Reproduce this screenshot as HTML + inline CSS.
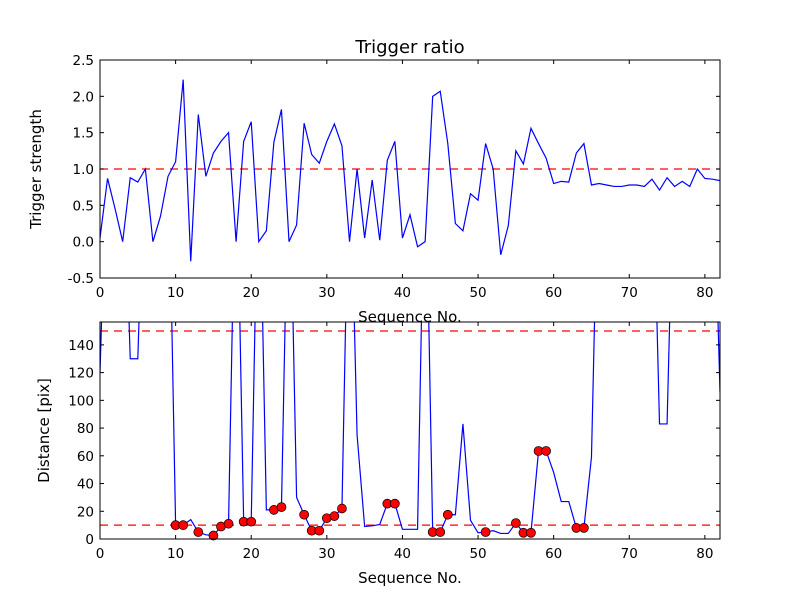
<!DOCTYPE html>
<html><head><meta charset="utf-8"><style>
html,body{margin:0;padding:0;background:#fff}
svg{display:block;font-family:"DejaVu Sans","Liberation Sans",sans-serif}
</style></head><body>
<svg id="fig" width="800" height="600">
<rect width="800" height="600" fill="#fff"/>
<defs>
<clipPath id="c1"><rect x="100" y="60" width="620" height="218"/></clipPath>
<clipPath id="c2"><rect x="100" y="322" width="620" height="217"/></clipPath>
</defs>
<text x="410" y="53" text-anchor="middle" font-size="18">Trigger ratio</text>
<g id="topplot"></g>
<g id="botplot"></g>
</svg>
<script>
const seqNo = Array.from({length:83},(_, i)=>i);
const triggerStrength = [0.05,0.87,0.45,0.0,0.88,0.82,1.0,0.0,0.35,0.9,1.1,2.23,-0.27,1.75,0.9,1.22,1.38,1.5,0.0,1.38,1.65,0.0,0.15,1.37,1.82,0.0,0.23,1.63,1.2,1.08,1.38,1.62,1.32,0.0,1.0,0.05,0.85,0.02,1.12,1.38,0.05,0.37,-0.07,0.0,2.0,2.07,1.35,0.25,0.15,0.66,0.57,1.35,1.0,-0.18,0.22,1.25,1.07,1.56,1.35,1.15,0.8,0.83,0.82,1.22,1.35,0.78,0.8,0.78,0.76,0.76,0.78,0.78,0.76,0.86,0.71,0.88,0.76,0.83,0.76,1.0,0.87,0.86,0.84];
const distance = [120,300,300,300,130,130,300,300,300,300,10,10,14,5,3,2.5,9,11,300,12.5,12.5,300,21,21,23,300,30,17.5,6,6,15,16.5,22,300,75,9,9.5,10.5,25.5,25.5,7,7,7,300,5,5,17.5,17.5,83,13.5,4.5,5,6,4,4,11.5,4.5,4.5,63.5,63.5,48,27,27,8,8,59,300,300,300,300,300,300,300,300,83,83,300,300,300,300,300,300,106];
const markerIdx = [10,11,13,15,16,17,19,20,23,24,27,28,29,30,31,32,38,39,44,45,46,51,55,56,57,58,59,63,64];
const xTicks = [0,10,20,30,40,50,60,70,80];
const yTicksTop = [-0.5,0.0,0.5,1.0,1.5,2.0,2.5];
const yTicksBot = [0,20,40,60,80,100,120,140];
const thresholdTop = [1.0];
const thresholdBot = [10,150];

const NS="http://www.w3.org/2000/svg";
function mk(tag,attrs,parent){const e=document.createElementNS(NS,tag);for(const k in attrs)e.setAttribute(k,attrs[k]);parent.appendChild(e);return e;}
const X0=100,X1=720,XMAX=82;
const xs=v=>X0+(X1-X0)*v/XMAX;
const ysTop=v=>278-(v+0.5)/3*218;
const ysBot=v=>539-v/156.5*217;

function axes(g,yT,y0,y1,ys,fmt,ylabel,ylx){
  mk('rect',{x:X0,y:y0,width:X1-X0,height:y1-y0,fill:'none',stroke:'#000','stroke-width':1},g);
  xTicks.forEach(t=>{const x=xs(t);
    mk('line',{x1:x,x2:x,y1:y1,y2:y1-4,stroke:'#000'},g);
    mk('line',{x1:x,x2:x,y1:y0,y2:y0+4,stroke:'#000'},g);
    const tx=mk('text',{x:x,y:y1+19,'text-anchor':'middle','font-size':'13.5'},g);tx.textContent=t;
    
    
  });
  yT.forEach(t=>{const y=ys(t);
    mk('line',{x1:X0,x2:X0+4,y1:y,y2:y,stroke:'#000'},g);
    mk('line',{x1:X1,x2:X1-4,y1:y,y2:y,stroke:'#000'},g);
    const tx=mk('text',{x:X0-6,y:y+5,'text-anchor':'end','font-size':'13.5'},g);tx.textContent=fmt(t);
    
    
  });
  const xl=mk('text',{x:410,y:y1+44,'text-anchor':'middle','font-size':'15'},g);xl.textContent='Sequence No.';
  
  
  const yc=(y0+y1)/2;
  const yl=mk('text',{x:ylx,y:yc,'text-anchor':'middle','font-size':'15',transform:`rotate(-90 ${ylx} ${yc})`},g);yl.textContent=ylabel;
  
  
}

const topG=document.getElementById('topplot');
const cTop=mk('g',{'clip-path':'url(#c1)'},topG);
thresholdTop.forEach(v=>{const l=mk('line',{x1:X0,x2:X1,y1:ysTop(v),y2:ysTop(v),stroke:'#f00','stroke-dasharray':'8,6','stroke-width':1.2},cTop);
  
  });
const p1=mk('polyline',{points:triggerStrength.map((v,i)=>xs(seqNo[i])+','+ysTop(v)).join(' '),fill:'none',stroke:'#00f','stroke-width':1.2},cTop);


axes(topG,yTicksTop,60,278,ysTop,t=>t.toFixed(1),'Trigger strength',41);

const botG=document.getElementById('botplot');
const cBot=mk('g',{'clip-path':'url(#c2)'},botG);
thresholdBot.forEach(v=>{const l=mk('line',{x1:X0,x2:X1,y1:ysBot(v),y2:ysBot(v),stroke:'#f00','stroke-dasharray':'8,6','stroke-width':1.2},cBot);
  
  });
const p2=mk('polyline',{points:distance.map((v,i)=>xs(seqNo[i])+','+ysBot(v)).join(' '),fill:'none',stroke:'#00f','stroke-width':1.2},cBot);


const mg=mk('g',{},botG);
markerIdx.forEach(i=>{const c=mk('circle',{cx:xs(seqNo[i]),cy:ysBot(distance[i]),r:4.5,fill:'#f00',stroke:'#000','stroke-width':0.7},mg);
  
  });
axes(botG,yTicksBot,322,539,ysBot,t=>String(t),'Distance [pix]',49);
</script>
</body></html>
